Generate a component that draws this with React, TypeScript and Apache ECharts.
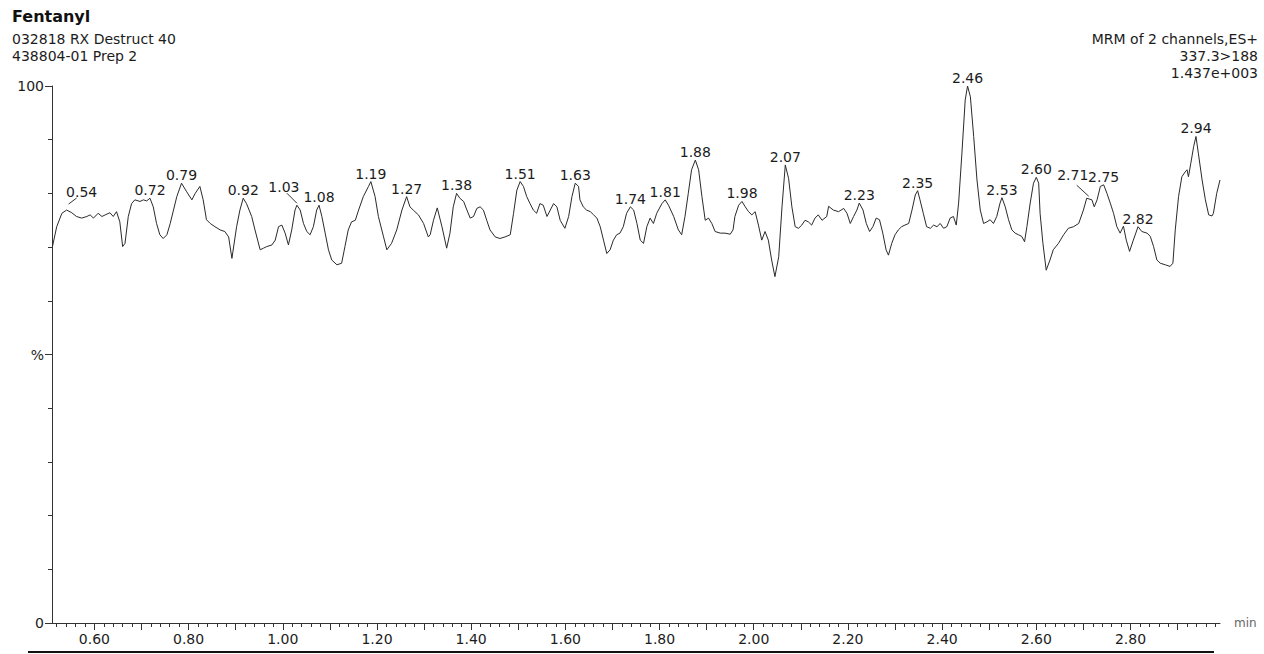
import React, { useEffect, useRef } from "react";
import * as echarts from "echarts";

// Retention time (min) and relative intensity (%) of the Fentanyl MRM trace
const rtMinutes = [
  0.511, 0.520, 0.531, 0.541, 0.552, 0.562, 0.573, 0.584, 0.591, 0.598,
  0.608, 0.616, 0.623, 0.633, 0.640, 0.647, 0.654, 0.660, 0.665, 0.672,
  0.679, 0.686, 0.697, 0.704, 0.711, 0.718, 0.725, 0.732, 0.739, 0.746,
  0.754, 0.761, 0.768, 0.775, 0.785, 0.796, 0.807, 0.814, 0.824, 0.831,
  0.838, 0.846, 0.856, 0.867, 0.877, 0.885, 0.892, 0.902, 0.909, 0.916,
  0.923, 0.934, 0.941, 0.952, 0.959, 0.966, 0.977, 0.984, 0.991, 0.998,
  1.005, 1.012, 1.019, 1.026, 1.030, 1.037, 1.044, 1.051, 1.058, 1.065,
  1.072, 1.077, 1.083, 1.090, 1.097, 1.104, 1.115, 1.125, 1.132, 1.139,
  1.146, 1.154, 1.161, 1.171, 1.182, 1.187, 1.196, 1.203, 1.214, 1.221,
  1.231, 1.242, 1.253, 1.263, 1.270, 1.277, 1.288, 1.299, 1.309,
  1.313, 1.320, 1.328, 1.338, 1.348, 1.355, 1.362, 1.369, 1.376, 1.384,
  1.391, 1.398, 1.405, 1.412, 1.419, 1.426, 1.433, 1.440, 1.451, 1.461,
  1.472, 1.483, 1.490, 1.497, 1.504, 1.511, 1.518, 1.525, 1.532, 1.539,
  1.546, 1.553, 1.561, 1.568, 1.575, 1.582, 1.589, 1.599, 1.607, 1.614,
  1.621, 1.628, 1.631, 1.638, 1.645, 1.653, 1.660, 1.667, 1.674, 1.681,
  1.688, 1.695, 1.702, 1.709, 1.716, 1.723, 1.730, 1.738, 1.745, 1.752,
  1.759, 1.766, 1.773, 1.780, 1.787, 1.794, 1.805, 1.812, 1.819, 1.830,
  1.840, 1.847, 1.854, 1.861, 1.868, 1.876, 1.883, 1.890, 1.897, 1.904,
  1.911, 1.918, 1.929, 1.939, 1.950, 1.956, 1.960, 1.968, 1.975, 1.982,
  1.989, 1.996, 2.003, 2.010, 2.017, 2.024, 2.031, 2.038, 2.045, 2.053,
  2.060, 2.067, 2.074, 2.081, 2.088, 2.095, 2.102, 2.109, 2.116, 2.123,
  2.130, 2.137, 2.145, 2.155,
  2.159, 2.169, 2.180, 2.191, 2.198, 2.205, 2.212, 2.219, 2.224, 2.232,
  2.239, 2.246, 2.253, 2.260, 2.267, 2.274, 2.281, 2.286, 2.293, 2.300,
  2.307, 2.314, 2.321, 2.329, 2.336, 2.343, 2.348, 2.353, 2.360, 2.367,
  2.375, 2.382, 2.389, 2.396, 2.403, 2.410, 2.417, 2.424, 2.430, 2.435,
  2.442, 2.449, 2.454, 2.460, 2.467, 2.474, 2.481, 2.488, 2.495, 2.502,
  2.509, 2.516, 2.523, 2.527, 2.534, 2.541, 2.548, 2.555, 2.562, 2.569,
  2.575, 2.580, 2.587, 2.594, 2.600, 2.605, 2.608, 2.614, 2.621, 2.629,
  2.636, 2.647, 2.658, 2.668, 2.679, 2.690, 2.700, 2.707, 2.718, 2.723,
  2.729, 2.736, 2.743, 2.750, 2.757, 2.764, 2.771, 2.778, 2.785, 2.791,
  2.798, 2.806, 2.816, 2.824, 2.835, 2.842, 2.849, 2.856, 2.863, 2.874,
  2.884, 2.890, 2.895, 2.902, 2.909, 2.916, 2.920, 2.923, 2.928, 2.934,
  2.939, 2.944, 2.952, 2.959, 2.966, 2.973, 2.976, 2.983, 2.990,
];

const intensityPct = [
  70.1, 73.8, 76.3, 76.9, 76.4, 75.7, 75.4, 75.7, 76.0, 75.4,
  76.3, 75.7, 76.0, 76.4, 75.7, 76.6, 74.7, 70.1, 70.7, 75.7,
  78.1, 78.8, 78.5, 78.8, 78.6, 79.1, 77.5, 74.4, 72.3, 71.6,
  72.3, 74.4, 76.9, 79.4, 81.9, 80.3, 78.8, 80.0, 81.3, 78.8,
  75.1, 74.4, 73.8, 73.2, 72.9, 71.9, 67.9, 73.8, 76.9, 79.1,
  78.1, 75.7, 73.2, 69.5, 69.8, 70.1, 70.4, 71.3, 73.8, 74.1,
  72.6, 70.4, 73.2, 76.9, 77.8, 76.9, 74.4, 72.9, 72.3, 73.8,
  76.9, 77.8, 75.7, 72.6, 69.5, 67.6, 66.7, 67.0, 70.1, 73.2,
  74.7, 75.0, 76.9, 79.4, 81.3, 82.2, 79.4, 75.7, 71.9, 69.5,
  70.7, 73.2, 76.9, 79.4, 77.5, 76.9, 76.0, 74.4, 71.9,
  72.3, 75.0, 77.3, 73.8, 69.8, 72.6, 77.5, 80.0, 79.1, 78.5,
  76.9, 75.4, 75.7, 77.2, 77.5, 76.9, 75.0, 73.2, 71.9, 71.6,
  71.9, 72.3, 76.3, 80.6, 82.2, 81.3, 79.4, 78.1, 76.9, 76.3,
  78.1, 77.8, 75.7, 76.9, 78.1, 77.5, 75.0, 73.5, 75.7, 79.4,
  81.9, 81.3, 78.8, 77.5, 76.9, 76.6, 76.0, 75.4, 73.8, 71.3,
  68.8, 69.5, 71.3, 72.3, 72.6, 73.8, 76.3, 77.5, 76.9, 74.4,
  71.3, 70.7, 73.8, 75.4, 74.4, 76.3, 78.1, 78.8, 77.8, 75.7,
  73.2, 72.3, 75.7, 80.0, 84.4, 86.2, 84.4, 79.4, 75.0, 75.4,
  74.4, 72.9, 72.6, 72.6, 72.4, 73.2, 75.7, 77.8, 78.5, 77.5,
  76.6, 76.0, 76.6, 74.1, 71.3, 72.9, 71.3, 67.6, 64.5, 68.2,
  77.5, 85.3, 82.8, 77.5, 73.8, 73.5, 74.1, 75.0, 74.7, 74.1,
  75.4, 76.0, 75.0, 75.7,
  77.6, 76.9, 76.6, 77.2, 76.3, 74.4, 75.7, 76.9, 78.2, 76.9,
  74.4, 72.9, 73.8, 75.4, 75.1, 72.6, 69.5, 68.5, 70.7, 72.3,
  73.2, 73.8, 74.1, 74.4, 76.9, 79.7, 80.5, 78.8, 76.3, 73.8,
  73.5, 74.1, 73.8, 74.4, 73.5, 73.8, 75.4, 75.7, 74.1, 78.2,
  87.5, 97.4, 100.0, 98.0, 90.6, 82.5, 76.9, 74.4, 74.7, 75.1,
  74.4, 75.7, 78.2, 79.2, 77.5, 75.1, 73.2, 72.6, 72.3, 72.0,
  71.0, 73.8, 78.2, 81.9, 83.0, 81.9, 76.3, 70.7, 65.7, 67.6,
  69.5, 70.7, 72.3, 73.5, 73.8, 74.4, 76.9, 79.1, 78.8, 77.5,
  78.8, 81.3, 81.6, 80.0, 78.2, 76.3, 73.8, 72.6, 73.9, 71.3,
  69.2, 71.3, 73.8, 72.9, 72.6, 72.0, 70.1, 67.6, 67.0, 66.7,
  66.4, 67.0, 73.2, 79.4, 83.1, 84.0, 84.4, 83.1, 85.6, 88.7,
  90.6, 87.5, 82.5, 78.8, 76.0, 75.8, 76.3, 80.0, 82.5,
];

// Peak annotations
const peakLabels = [
  "0.54", "0.72", "0.79", "0.92", "1.03", "1.08", "1.19", "1.27", "1.38",
  "1.51", "1.63", "1.74", "1.81", "1.88", "1.98", "2.07", "2.23", "2.35",
  "2.46", "2.53", "2.60", "2.71", "2.75", "2.82", "2.94",
];
const peakRt = [
  0.541, 0.718, 0.785, 0.916, 1.030, 1.077, 1.187, 1.263, 1.369,
  1.504, 1.621, 1.738, 1.812, 1.876, 1.975, 2.067, 2.224, 2.348,
  2.454, 2.527, 2.600, 2.707, 2.743, 2.816, 2.939,
];
const peakHeight = [
  76.9, 79.1, 81.9, 79.1, 77.8, 77.8, 82.2, 79.4, 80.0,
  82.2, 81.9, 77.5, 78.8, 86.2, 78.5, 85.3, 78.2, 80.5,
  100.0, 79.2, 83.0, 79.1, 81.6, 73.8, 90.6,
];

// Axis texts
const xLabelValues = [0.6, 0.8, 1.0, 1.2, 1.4, 1.6, 1.8, 2.0, 2.2, 2.4, 2.6, 2.8];
const yLabelText: Record<number, string> = { 0: "0", 50: "%", 100: "100" };
const headerLeft = ["032818 RX Destruct 40", "438804-01 Prep 2"];
const headerRight = ["MRM of 2 channels,ES+", "337.3>188", "1.437e+003"];
const titleText = "Fentanyl";

// Label placements (pixel offsets from the apex) for labels that use a leader line
const labelPlacement: Record<string, { dx: number; dy: number; leader: number[] }> = {
  "0.54": { dx: 15, dy: -18, leader: [2, -6, 10, -12] },
  "1.03": { dx: -13, dy: -18, leader: [-10, -12, 0, -2] },
  "2.71": { dx: -14, dy: -23, leader: [-10, -13, 2, -2] },
};

const X_MIN = 0.51;
const X_MAX = 2.99;
const FONT = '"DejaVu Sans", sans-serif';
const INK = "#1c1c1c";

function stepValues(from: number, to: number, step: number): number[] {
  const out: number[] = [];
  const n = Math.round((to - from) / step);
  for (let i = 0; i <= n; i++) out.push(Math.round((from + i * step) * 1000) / 1000);
  return out;
}

export default function App() {
  const ref = useRef<HTMLDivElement>(null);

  useEffect(() => {
    if (!ref.current) return;
    const chart = echarts.init(ref.current, undefined, { renderer: "svg" });
    const majorTicks = stepValues(0.6, 2.9, 0.1);
    const minorTicks = stepValues(0.52, 2.98, 0.02);
    const trace = rtMinutes.map((t, i) => [t, intensityPct[i]]);
    const peaks = peakRt.map((t, i) => [t, peakHeight[i]]);

    const option: any = {
      animation: false,
      backgroundColor: "#ffffff",
      grid: { left: 52, right: 44, top: 86, bottom: 31, containLabel: false },
      xAxis: [
        {
          type: "value",
          min: X_MIN,
          max: X_MAX,
          position: "bottom",
          axisLine: { show: true, lineStyle: { color: "#333", width: 1 } },
          axisTick: { show: true, length: 7, customValues: majorTicks, lineStyle: { color: "#333" } },
          axisLabel: {
            customValues: xLabelValues,
            formatter: (v: number) => v.toFixed(2),
            fontFamily: FONT,
            fontSize: 14,
            color: INK,
            margin: 9,
          },
          splitLine: { show: false },
          name: "min",
          nameLocation: "end",
          nameGap: 14,
          nameTextStyle: { fontFamily: FONT, fontSize: 12, color: "#666", padding: [6, 0, 0, 0] },
        },
        {
          type: "value",
          min: X_MIN,
          max: X_MAX,
          position: "bottom",
          axisLine: { show: false },
          axisTick: { show: true, length: 4, customValues: minorTicks, lineStyle: { color: "#333" } },
          axisLabel: { show: false },
          splitLine: { show: false },
        },
      ],
      yAxis: {
        type: "value",
        min: 0,
        max: 100,
        interval: 50,
        axisLine: { show: true, lineStyle: { color: "#333", width: 1 } },
        axisTick: { show: true, length: 7, lineStyle: { color: "#333" } },
        minorTick: { show: true, splitNumber: 5, length: 4, lineStyle: { color: "#333" } },
        axisLabel: {
          formatter: (v: number) => yLabelText[v] ?? "",
          fontFamily: FONT,
          fontSize: 14,
          color: INK,
          margin: 8,
        },
        splitLine: { show: false },
        minorSplitLine: { show: false },
      },
      series: [
        {
          type: "line",
          data: trace,
          xAxisIndex: 0,
          showSymbol: false,
          symbol: "none",
          smooth: false,
          lineStyle: { color: "#2a2a2a", width: 1 },
          silent: true,
        },
        {
          type: "custom",
          xAxisIndex: 0,
          data: peaks,
          silent: true,
          renderItem: (params: any, api: any) => {
            const i = params.dataIndex;
            const p = api.coord([api.value(0), api.value(1)]);
            const text = peakLabels[i];
            const place = labelPlacement[text];
            const dx = place ? place.dx : 0;
            const dy = place ? place.dy : -8;
            const children: any[] = [
              {
                type: "text",
                x: p[0] + dx,
                y: p[1] + dy,
                style: {
                  text,
                  font: `14px ${FONT}`,
                  fill: INK,
                  align: "center",
                  verticalAlign: "middle",
                },
              },
            ];
            if (place) {
              const l = place.leader;
              children.push({
                type: "line",
                shape: { x1: p[0] + l[0], y1: p[1] + l[1], x2: p[0] + l[2], y2: p[1] + l[3] },
                style: { stroke: "#333", lineWidth: 1 },
              });
            }
            return { type: "group", children };
          },
        },
      ],
      graphic: [
        {
          type: "text",
          x: 12,
          y: 16,
          style: { text: titleText, font: `bold 16px ${FONT}`, fill: "#111", verticalAlign: "middle" },
        },
        ...headerLeft.map((t, i) => ({
          type: "text",
          x: 12,
          y: 39 + i * 17,
          style: { text: t, font: `14px ${FONT}`, fill: INK, verticalAlign: "middle" },
        })),
        ...headerRight.map((t, i) => ({
          type: "text",
          x: 1258,
          y: 39 + i * 17,
          style: { text: t, font: `14px ${FONT}`, fill: INK, align: "right", verticalAlign: "middle" },
        })),
        {
          type: "rect",
          shape: { x: 28, y: 651, width: 1186, height: 2 },
          style: { fill: "#111" },
        },
      ],
    };

    chart.setOption(option);
    return () => chart.dispose();
  }, []);

  return (
    <div
      ref={ref}
      style={{ position: "absolute", left: 0, top: 0, width: 1264, height: 654, background: "#fff" }}
    />
  );
}
